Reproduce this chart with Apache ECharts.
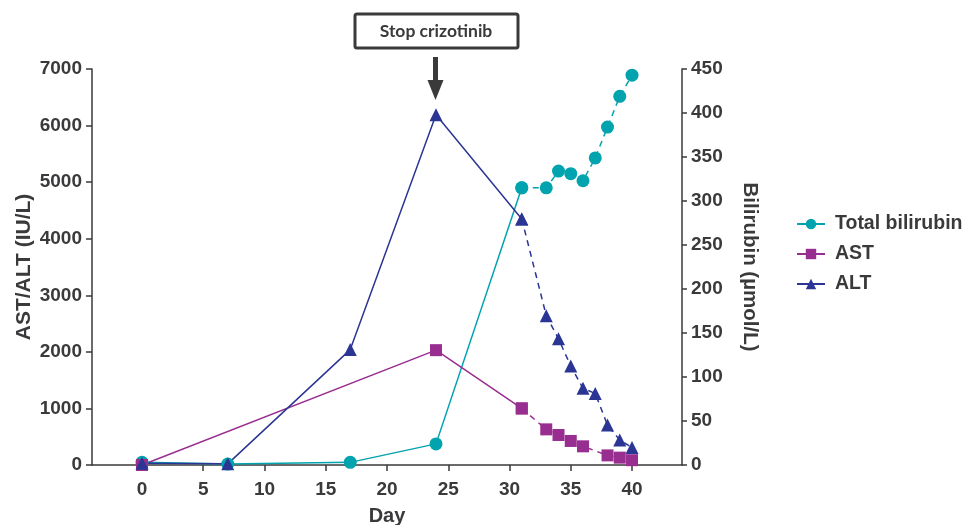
<!DOCTYPE html>
<html>
<head>
<meta charset="utf-8">
<script src="https://cdn.jsdelivr.net/npm/echarts@6/dist/echarts.min.js"></script>
<style>html,body{margin:0;padding:0;background:#fff}#c{width:971px;height:525px}</style>
</head>
<body>
<div id="c"></div>
<script>
// Data
const biliDays = [0, 7, 17, 24, 31, 33, 34, 35, 36, 37, 38, 39, 40];
const biliValues = [3, 1, 3, 24, 315, 315, 334, 331, 323, 349, 384, 419, 443];
const astDays = [0, 24, 31, 33, 34, 35, 36, 38, 39, 40];
const astValues = [0, 2030, 1000, 630, 530, 425, 330, 170, 130, 85];
const altDays = [0, 7, 17, 24, 31, 33, 34, 35, 36, 37, 38, 39, 40];
const altValues = [30, 20, 2040, 6190, 4350, 2640, 2230, 1750, 1355, 1265, 705, 440, 310];
const xTicks = [0, 5, 10, 15, 20, 25, 30, 35, 40];
const splitDay = 31; // solid before, dashed after

const TXT = '#3a3a3c';
const FONT = 'Arial, Helvetica, "Liberation Sans", sans-serif';
const C_BILI = '#00A3AE', C_AST = '#992E91', C_ALT = '#2B3593';

function pairs(d, v) { return d.map((x, i) => [x, v[i]]); }
function solidPart(d, v) { return pairs(d, v).filter(p => p[0] <= splitDay); }
function dashPart(d, v) { return pairs(d, v).filter(p => p[0] >= splitDay); }

function mk(name, data, color, symbol, size, yIdx, dashed) {
  return {
    name, type: 'line', data, yAxisIndex: yIdx,
    symbol, symbolSize: size, showSymbol: true,
    itemStyle: { color },
    lineStyle: { color, width: 1.5, type: dashed ? [6, 5] : 'solid' },
    z: dashed ? 2 : 3, animation: false
  };
}
const plain = v => String(v);

const chart = echarts.init(document.getElementById('c'));
chart.setOption({
  animation: false,
  grid: { left: 92, right: 289, top: 69, bottom: 60, containLabel: false, outerBoundsMode: 'none' },
  legend: {
    orient: 'vertical', left: 791, top: 209,
    itemWidth: 28, itemHeight: 13, itemGap: 10,
    data: ['Total bilirubin', 'AST', 'ALT'],
    textStyle: { color: TXT, fontFamily: FONT, fontWeight: 'bold', fontSize: 19.5, padding: [0, 0, 0, 5] }
  },
  xAxis: {
    type: 'value', min: -4.08, max: 44.08,
    name: 'Day', nameLocation: 'middle', nameGap: 41, nameMoveOverlap: false,
    nameTextStyle: { color: TXT, fontFamily: FONT, fontWeight: 'bold', fontSize: 20 },
    axisLine: { onZero: false, lineStyle: { color: '#3a3a3a', width: 1.5 } },
    axisTick: { show: true, length: 6, customValues: xTicks, lineStyle: { color: '#3a3a3a', width: 1.5 } },
    axisLabel: { customValues: xTicks, margin: 15, color: TXT, fontFamily: FONT, fontWeight: 'bold', fontSize: 19 },
    splitLine: { show: false }
  },
  yAxis: [{
    type: 'value', min: 0, max: 7000, interval: 1000, position: 'left',
    name: 'AST/ALT (IU/L)', nameLocation: 'middle', nameGap: 57, nameRotate: 90, nameMoveOverlap: false,
    nameTextStyle: { color: TXT, fontFamily: FONT, fontWeight: 'bold', fontSize: 21 },
    axisLine: { show: true, onZero: false, lineStyle: { color: '#3a3a3a', width: 1.5 } },
    axisTick: { show: true, length: 6, lineStyle: { color: '#3a3a3a', width: 1.5 } },
    axisLabel: { margin: 10, formatter: plain, color: TXT, fontFamily: FONT, fontWeight: 'bold', fontSize: 19 },
    splitLine: { show: false }
  }, {
    type: 'value', min: 0, max: 450, interval: 50, position: 'right',
    name: 'Bilirubin (µmol/L)', nameLocation: 'middle', nameGap: 57, nameRotate: -90, nameMoveOverlap: false,
    nameTextStyle: { color: TXT, fontFamily: FONT, fontWeight: 'bold', fontSize: 20.5 },
    axisLine: { show: true, onZero: false, lineStyle: { color: '#3a3a3a', width: 1.5 } },
    axisTick: { show: true, length: 5, lineStyle: { color: '#3a3a3a', width: 1.5 } },
    axisLabel: { margin: 9, formatter: plain, color: TXT, fontFamily: FONT, fontWeight: 'bold', fontSize: 19 },
    splitLine: { show: false }
  }],
  series: [
    mk('Total bilirubin', solidPart(biliDays, biliValues), C_BILI, 'circle', 13, 1, false),
    mk('AST', solidPart(astDays, astValues), C_AST, 'rect', 12, 0, false),
    mk('ALT', solidPart(altDays, altValues), C_ALT, 'triangle', 13, 0, false),
    mk('Total bilirubin', dashPart(biliDays, biliValues), C_BILI, 'circle', 13, 1, true),
    mk('AST', dashPart(astDays, astValues), C_AST, 'rect', 12, 0, true),
    mk('ALT', dashPart(altDays, altValues), C_ALT, 'triangle', 13, 0, true)
  ],
  graphic: [
    { type: 'rect', shape: { x: 355, y: 14, width: 163, height: 34, r: 2 },
      style: { fill: '#fff', stroke: '#3a3a3a', lineWidth: 3 } },
    { type: 'text', x: 436, y: 31,
      style: { text: 'Stop crizotinib', fill: '#3a3a3a', font: 'bold 17.5px Lato, "Open Sans", sans-serif', align: 'center', verticalAlign: 'middle' } },
    { type: 'rect', shape: { x: 433, y: 57, width: 5, height: 26 }, style: { fill: '#3a3a3a' } },
    { type: 'polygon', shape: { points: [[427.5, 80], [443.5, 80], [435.5, 100]] }, style: { fill: '#3a3a3a' } }
  ]
});
</script>
</body>
</html>
